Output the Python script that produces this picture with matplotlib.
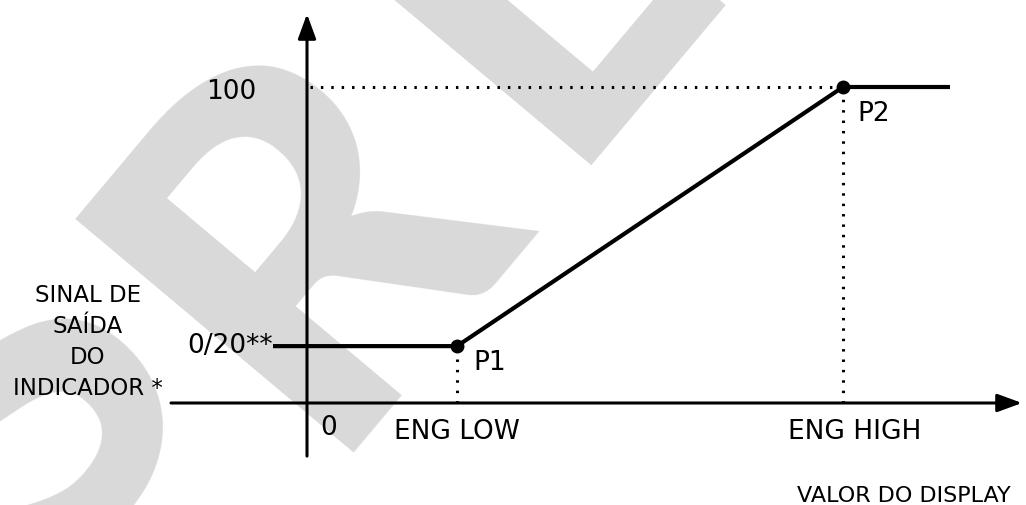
import matplotlib
matplotlib.use("Agg")
import matplotlib.pyplot as plt

# ---- data (schematic units) ----
x_eng_low = 30.0
x_eng_high = 107.2
y_low = 18.0      # 0/20** level
y_high = 100.0
curve_x = [-6.8, x_eng_low, x_eng_high, 128.6]
curve_y = [y_low, y_low, y_high, y_high]
points_x = [x_eng_low, x_eng_high]
points_y = [y_low, y_high]
point_labels = ["P1", "P2"]
xaxis_range = [-27.2, 143.0]
yaxis_range = [-16.8, 123.1]

W, H = 1026, 506
fig = plt.figure(figsize=(W / 100, H / 100), dpi=100)
ax = fig.add_axes([0, 0, 1, 1])
ax.set_xlim(-61.4, 143.8)
ax.set_ylim(-32.28, 127.85)
ax.axis("off")

# watermark letters (anchored at baseline-left, rotated 50 deg)
wm_letters = ["S", "R", "L"]
wm_anchor_px = [(42, 598), (316, 452), (555, 165)]
wm_sizes = [350, 360, 350]
for ch, (px, py), sz in zip(wm_letters, wm_anchor_px, wm_sizes):
    ax.text(px / W, 1 - py / H, ch, transform=ax.transAxes, fontsize=sz,
            family="Lato", fontweight=900, color="#d9d9d9", rotation=50,
            ha="left", va="baseline", rotation_mode="anchor", zorder=0,
            clip_on=True)

# axes with arrows
arr = dict(arrowstyle="-|>,head_length=0.6,head_width=0.22", lw=2.2,
           color="black", mutation_scale=25, shrinkA=0, shrinkB=0)
ax.annotate("", xy=(xaxis_range[1], 0), xytext=(xaxis_range[0], 0),
            arrowprops=arr, zorder=2)
ax.annotate("", xy=(0, yaxis_range[1]), xytext=(0, yaxis_range[0]),
            arrowprops=arr, zorder=2)

# dotted guides
dot = dict(color="black", lw=2.2, linestyle=(0, (0.8, 2.6)), zorder=2)
ax.plot([0.6, x_eng_high], [y_high, y_high], **dot)
ax.plot([x_eng_low, x_eng_low], [0, y_low], **dot)
ax.plot([x_eng_high, x_eng_high], [0, y_high], **dot)

# transfer curve
ax.plot(curve_x, curve_y, color="black", lw=3.0, solid_capstyle="butt", zorder=3)
ax.plot(points_x, points_y, "o", color="black", ms=9, zorder=4)

fs = 19
ax.text(-10.2, y_high - 1.3, "100", fontsize=fs, ha="right", va="center")
ax.text(-6.9, y_low + 0.5, "0/20**", fontsize=fs, ha="right", va="center")
ax.text(x_eng_low + 3.2, y_low - 5.0, point_labels[0], fontsize=fs, ha="left", va="center")
ax.text(x_eng_high + 2.8, y_high - 8.2, point_labels[1], fontsize=fs, ha="left", va="center")
ax.text(2.6, -7.6, "0", fontsize=fs, ha="left", va="center")
ax.text(x_eng_low, -8.9, "ENG LOW", fontsize=fs, ha="center", va="center")
ax.text(x_eng_high + 2.4, -8.9, "ENG HIGH", fontsize=fs, ha="center", va="center")
ax.text(140.8, -29.1, "VALOR DO DISPLAY", fontsize=16, ha="right", va="center")
ax.text(-43.8, 19.6, "SINAL DE\nSAÍDA\nDO\nINDICADOR *", fontsize=16.5,
        ha="center", va="center", linespacing=1.45)

fig.savefig("out.png", dpi=100)
